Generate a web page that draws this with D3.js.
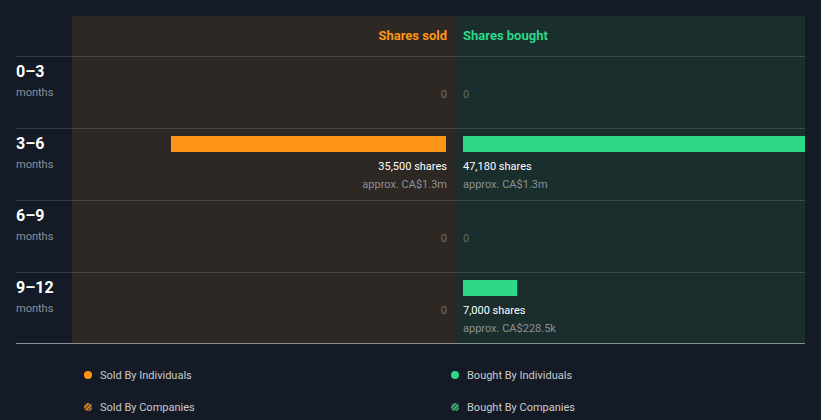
<!DOCTYPE html>
<html>
<head>
<meta charset="utf-8">
<script src="https://cdn.jsdelivr.net/npm/d3@7"></script>
<style>
  body { margin: 0; background: #151b26; }
  svg { display: block; font-family: Roboto, "Noto Sans", sans-serif; }
</style>
</head>
<body>
<script>
// insider trading, last 12 months
var periods = ['0\u20133', '3\u20136', '6\u20139', '9\u201312'];
var soldShares = [0, 35500, 0, 0];
var soldValue = ['', 'approx. CA$1.3m', '', ''];
var boughtShares = [0, 47180, 0, 7000];
var boughtValue = ['', 'approx. CA$1.3m', '', 'approx. CA$228.5k'];
var legendItems = ['Sold By Individuals', 'Bought By Individuals', 'Sold By Companies', 'Bought By Companies'];

var width = 821, height = 420;
var orange = '#ff9516', green = '#2dd888';

var svg = d3.select('body').append('svg')
    .attr('width', width)
    .attr('height', height);

var defs = svg.append('defs');

// hatch patterns for the company legend icons
[['hatchO', orange], ['hatchG', green]].forEach(function(p){
    var pat = defs.append('pattern').attr('id', p[0])
        .attr('patternUnits', 'userSpaceOnUse')
        .attr('width', 3).attr('height', 3)
        .attr('patternTransform', 'rotate(45)');
    pat.append('rect').attr('width', 3).attr('height', 3).attr('fill', '#3a3a3a');
    pat.append('rect').attr('width', 1.5).attr('height', 3).attr('fill', p[1]);
});

var mid = 455, right = 805;
var top0 = 56, rowH = 72;

//panels
svg.append('rect').attr('x', 72).attr('y', 16).attr('width', mid - 72).attr('height', 327).attr('fill', '#2d2823');
svg.append('rect').attr('x', mid).attr('y', 16).attr('width', right - mid).attr('height', 327).attr('fill', '#1a2e2e');

//headers
svg.append('text').attr('x', 447).attr('y', 40).attr('text-anchor', 'end')
    .attr('fill', orange).attr('font-size', 13).attr('font-weight', 'bold').text('Shares sold');
svg.append('text').attr('x', 463).attr('y', 40)
    .attr('fill', green).attr('font-size', 13).attr('font-weight', 'bold').text('Shares bought');

var y = d3.scaleBand().domain(periods).range([top0, top0 + rowH * periods.length]);
var x = d3.scaleLinear().domain([0, 35500]).range([0, 275]);
var fmt = d3.format(',');

//row separator lines
svg.selectAll('.rowline').data(periods).enter().append('line')
    .attr('x1', 16).attr('x2', right)
    .attr('y1', function(d){ return y(d) + 0.5; }).attr('y2', function(d){ return y(d) + 0.5; })
    .attr('stroke', '#ffffff').attr('stroke-opacity', 0.14);
svg.append('line').attr('x1', 16).attr('x2', right).attr('y1', 343.5).attr('y2', 343.5)
    .attr('stroke', '#8a8f96');

//row labels
var rows = svg.selectAll('.row').data(periods).enter().append('g')
    .attr('transform', function(d){ return 'translate(0,' + y(d) + ')'; });
rows.append('text').attr('x', 16).attr('y', 21).attr('fill', '#ffffff')
    .attr('font-size', 16).attr('font-weight', 'bold').text(function(d){ return d; });
rows.append('text').attr('x', 16).attr('y', 40).attr('fill', '#8c9096')
    .attr('font-size', 11).text('months');

//bars and labels
rows.each(function(d, i){
    var g = d3.select(this);
    var s = soldShares[i];
    if (s > 0) {
        g.append('rect').attr('x', 446 - x(s)).attr('y', 8).attr('width', x(s)).attr('height', 16).attr('fill', orange);
        g.append('text').attr('x', 447).attr('y', 42).attr('text-anchor', 'end').attr('fill', '#ffffff')
            .attr('font-size', 11).text(fmt(s) + ' shares');
        g.append('text').attr('x', 447).attr('y', 60).attr('text-anchor', 'end').attr('fill', '#8c9096')
            .attr('font-size', 11).text(soldValue[i]);
    } else {
        g.append('text').attr('x', 447).attr('y', 42).attr('text-anchor', 'end').attr('fill', '#6b6e70')
            .attr('font-size', 11).text('0');
    }
    var b = boughtShares[i];
    if (b > 0) {
        // bar runs off the panel edge, so cap it there
        g.append('rect').attr('x', 463).attr('y', 8).attr('width', Math.min(x(b), right - 463)).attr('height', 16).attr('fill', green);
        g.append('text').attr('x', 463).attr('y', 42).attr('fill', '#ffffff')
            .attr('font-size', 11).text(fmt(b) + ' shares');
        g.append('text').attr('x', 463).attr('y', 60).attr('fill', '#8c9096')
            .attr('font-size', 11).text(boughtValue[i]);
    } else {
        g.append('text').attr('x', 463).attr('y', 42).attr('fill', '#5d6b6b')
            .attr('font-size', 11).text('0');
    }
});

//legend
var legendFill = [orange, green, 'url(#hatchO)', 'url(#hatchG)'];
var legend = svg.selectAll('.legend').data(legendItems).enter().append('g')
    .attr('transform', function(d, i){ return 'translate(' + (i % 2 === 0 ? 88 : 455) + ',' + (i < 2 ? 375 : 407) + ')'; });
legend.append('circle').attr('r', 4).attr('fill', function(d, i){ return legendFill[i]; });
legend.append('text').attr('x', 12).attr('y', 4).attr('fill', '#c8cacd')
    .attr('font-size', 11).text(function(d){ return d; });
</script>
</body>
</html>
